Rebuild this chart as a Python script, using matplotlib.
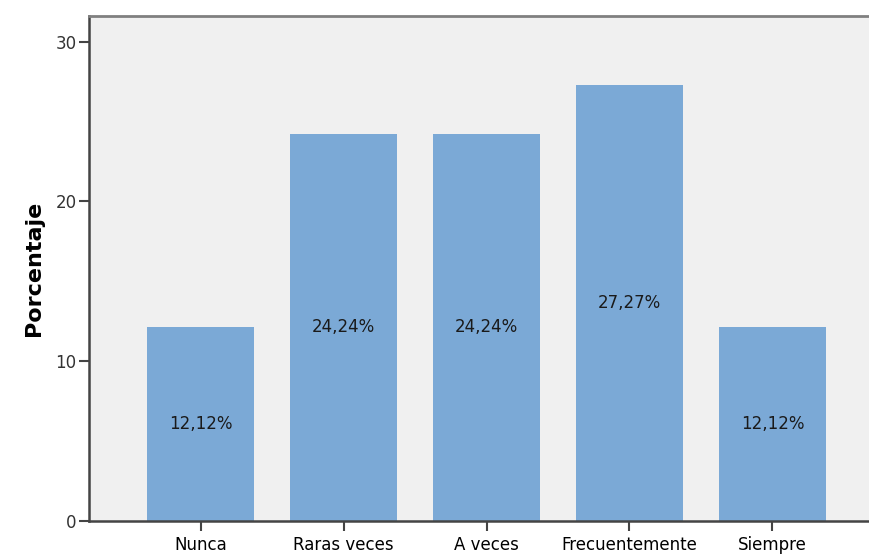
import matplotlib
matplotlib.use("Agg")
import matplotlib.pyplot as plt
import numpy as np

# ---------- Data ----------
categories = ["Nunca", "Raras veces", "A veces", "Frecuentemente", "Siempre"]
percentages = [12.12, 24.24, 24.24, 27.27, 12.12]
y_ticks = [0, 10, 20, 30]

bar_color = "#7ba9d6"
bg_color = "#f0f0f0"
axis_color = "#444444"

fig = plt.figure(figsize=(8.69, 5.58), dpi=100)
# plot area runs past the right edge, like the cropped original
ax = fig.add_axes([89 / 869, 37 / 558, (884 - 89) / 869, (542 - 37) / 558])
ax.set_facecolor(bg_color)

x = np.arange(len(categories))
bars = ax.bar(x, percentages, width=0.75, color=bar_color, zorder=2)

# value labels in the middle of each bar
for xi, v in zip(x, percentages):
    ax.text(xi, v / 2, f"{v:.2f}%".replace(".", ","), ha="center", va="center",
            fontsize=12, color="#1a1a1a", zorder=3)

ax.set_xlim(-0.78, 4.78)
ax.set_ylim(0, 31.6)
ax.set_xticks(x)
ax.set_xticklabels(categories, fontsize=12)
ax.set_yticks(y_ticks)
ax.set_yticklabels([str(t) for t in y_ticks], fontsize=12, color="#333333")
ax.set_ylabel("Porcentaje", fontsize=16, fontweight="bold", labelpad=8)

ax.tick_params(axis="x", length=7, width=1.5, color=axis_color, pad=4)
ax.tick_params(axis="y", length=7, width=1.5, color=axis_color, pad=2)

for side in ["left", "bottom"]:
    ax.spines[side].set_color(axis_color)
    ax.spines[side].set_linewidth(1.8)
ax.spines["top"].set_color("#808080")
ax.spines["top"].set_linewidth(2)
ax.spines["right"].set_visible(False)

fig.savefig("out.png", dpi=100)
